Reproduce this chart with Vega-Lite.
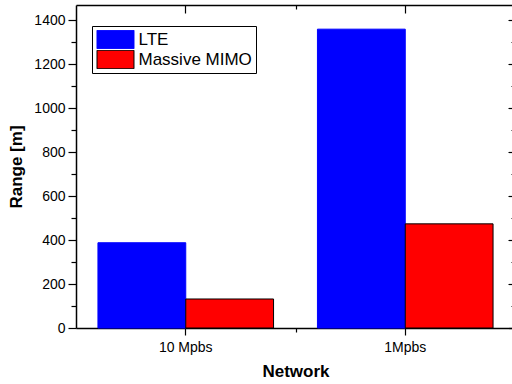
{
  "$schema": "https://vega.github.io/schema/vega-lite/v6.json",
  "width": 439,
  "height": 323,
  "autosize": {"type": "none"},
  "padding": {"left": 76, "top": 5, "right": 0, "bottom": 56},
  "background": "white",
  "config": {
    "view": {"stroke": null},
    "font": "Liberation Sans",
    "axis": {
      "grid": false,
      "domainColor": "black",
      "domainWidth": 1.5,
      "tickColor": "black",
      "tickWidth": 1.2,
      "labelColor": "black",
      "labelFont": "Liberation Sans",
      "labelFontSize": 14,
      "titleColor": "black",
      "titleFont": "Liberation Sans",
      "titleFontSize": 17,
      "titleFontWeight": "bold"
    },
    "legend": {
      "title": null,
      "orient": "none",
      "legendX": 16,
      "legendY": 21,
      "fillColor": "white",
      "strokeColor": "black",
      "padding": 4,
      "rowPadding": 1,
      "clipHeight": 19,
      "symbolType": "M-2,-1H2V1H-2Z",
      "symbolSize": 342,
      "symbolOffset": 9.5,
      "symbolStrokeWidth": 1,
      "symbolOpacity": 1,
      "labelFont": "Liberation Sans",
      "labelFontSize": 17,
      "labelColor": "black",
      "labelOffset": 13
    }
  },
  "data": {
    "values": [
      {"network": "10 Mpbs", "series": "LTE", "range": 388},
      {"network": "10 Mpbs", "series": "Massive MIMO", "range": 132},
      {"network": "1Mpbs", "series": "LTE", "range": 1360},
      {"network": "1Mpbs", "series": "Massive MIMO", "range": 474}
    ]
  },
  "resolve": {"axis": {"x": "independent", "y": "independent"}},
  "layer": [
    {
      "mark": {"type": "bar", "strokeWidth": 1},
      "encoding": {
        "x": {
          "field": "network",
          "type": "nominal",
          "sort": ["10 Mpbs", "1Mpbs"],
          "scale": {"paddingInner": 0.2, "paddingOuter": 0.1},
          "axis": {
            "orient": "bottom",
            "title": "Network",
            "labelAngle": 0,
            "tickSize": 7,
            "labelPadding": 5,
            "titlePadding": 9
          }
        },
        "xOffset": {
          "field": "series",
          "type": "nominal",
          "scale": {"paddingInner": 0, "paddingOuter": 0}
        },
        "y": {
          "field": "range",
          "type": "quantitative",
          "scale": {"domain": [0, 1470], "nice": false, "zero": true},
          "axis": {
            "orient": "left",
            "title": "Range [m]",
            "format": "d",
            "values": [0, 200, 400, 600, 800, 1000, 1200, 1400],
            "tickSize": 8,
            "labelPadding": 3,
            "titlePadding": 8
          }
        },
        "fill": {
          "field": "series",
          "type": "nominal",
          "scale": {"domain": ["LTE", "Massive MIMO"], "range": ["#0000ff", "#ff0000"]},
          "legend": {"title": null}
        },
        "stroke": {
          "field": "series",
          "type": "nominal",
          "scale": {"domain": ["LTE", "Massive MIMO"], "range": ["#0000ff", "#000000"]},
          "legend": {"title": null}
        }
      }
    },
    {
      "mark": {"type": "bar", "opacity": 0},
      "encoding": {
        "x": {
          "field": "network",
          "type": "nominal",
          "sort": ["10 Mpbs", "1Mpbs"],
          "axis": {
            "orient": "bottom",
            "title": null,
            "labels": false,
            "domain": false,
            "values": ["10 Mpbs"],
            "tickOffset": 110,
            "tickSize": 4
          }
        },
        "y": {
          "field": "range",
          "type": "quantitative",
          "axis": {
            "orient": "left",
            "title": null,
            "labels": false,
            "domain": false,
            "values": [100, 300, 500, 700, 900, 1100, 1300],
            "tickSize": 5
          }
        }
      }
    },
    {
      "mark": {"type": "bar", "opacity": 0},
      "encoding": {
        "x": {
          "field": "network",
          "type": "nominal",
          "sort": ["10 Mpbs", "1Mpbs"],
          "axis": {
            "orient": "top",
            "title": null,
            "labels": false,
            "tickSize": -8
          }
        },
        "y": {
          "field": "range",
          "type": "quantitative",
          "axis": {
            "orient": "right",
            "title": null,
            "labels": false,
            "values": [0, 200, 400, 600, 800, 1000, 1200, 1400],
            "tickSize": -7
          }
        }
      }
    },
    {
      "mark": {"type": "bar", "opacity": 0},
      "encoding": {
        "x": {
          "field": "network",
          "type": "nominal",
          "sort": ["10 Mpbs", "1Mpbs"],
          "axis": {
            "orient": "top",
            "title": null,
            "labels": false,
            "domain": false,
            "values": ["10 Mpbs"],
            "tickOffset": 110,
            "tickSize": -4
          }
        },
        "y": {
          "field": "range",
          "type": "quantitative",
          "axis": {
            "orient": "right",
            "title": null,
            "labels": false,
            "domain": false,
            "values": [100, 300, 500, 700, 900, 1100, 1300],
            "tickSize": -4
          }
        }
      }
    }
  ]
}
